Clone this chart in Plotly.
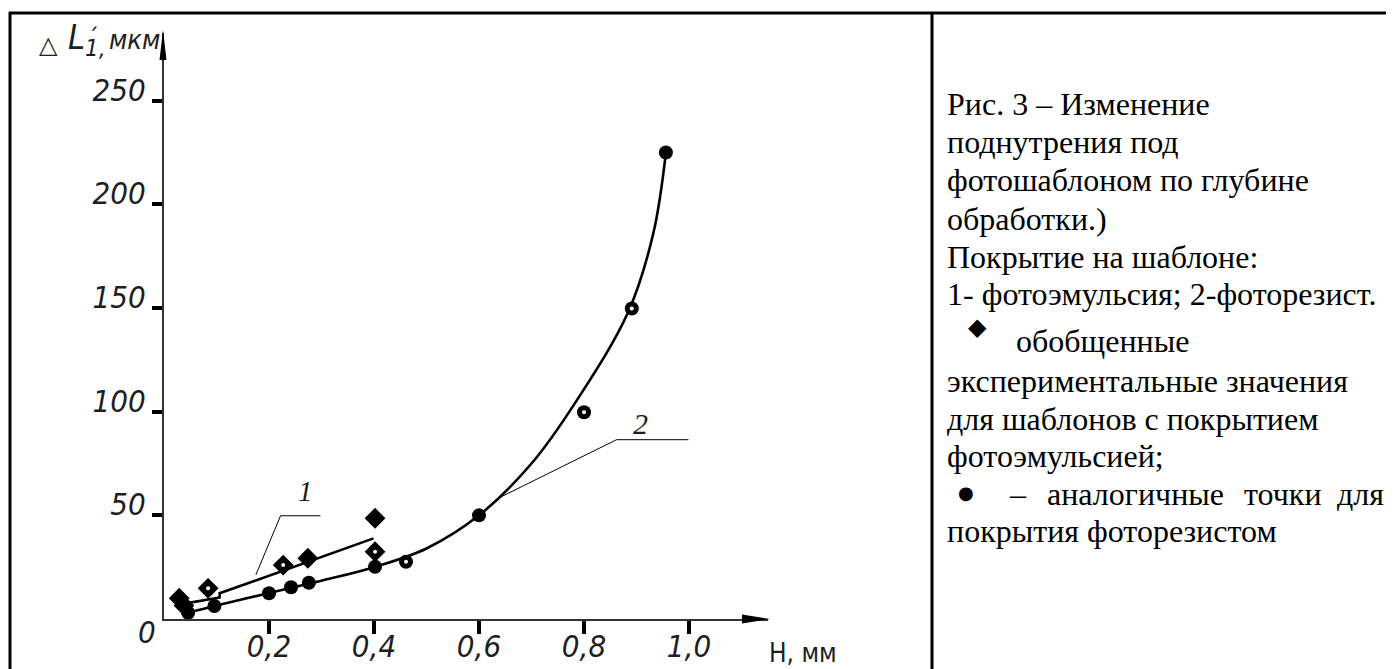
import plotly.graph_objects as go

# ---------------- data ----------------
# photoemulsion (series 1) experimental points, diamonds
emul_x = [0.029, 0.038, 0.084, 0.227, 0.274, 0.402, 0.402]
emul_y = [10.0, 6.5, 14.8, 26.0, 29.3, 48.6, 32.5]
emul_dot = [False, False, True, True, False, False, True]

# photoresist (series 2) experimental points, circles
resist_x = [0.046, 0.096, 0.200, 0.242, 0.276, 0.402, 0.461, 0.600, 0.800, 0.891, 0.956]
resist_y = [3.0, 6.3, 12.4, 15.3, 17.5, 25.2, 27.6, 50.0, 99.7, 149.8, 225.0]
resist_dot = [False, False, False, False, False, False, True, False, True, True, False]

# fitted curve 1 (photoemulsion)
curve1_x = [0.050, 0.106, 0.106, 0.399]
curve1_y = [7.9, 10.4, 12.4, 38.9]

# fitted curve 2 (photoresist)
curve2_x = [0.046, 0.100, 0.200, 0.300, 0.400, 0.500, 0.600, 0.700, 0.785, 0.884, 0.932, 0.956]
curve2_y = [3.0, 6.5, 12.5, 18.5, 25.0, 34.0, 50.0, 75.0, 105.0, 148.0, 186.0, 225.0]

# ticks
x_tickvals = [0.2, 0.4, 0.6, 0.8, 1.0]
x_ticktext = ["0,2", "0,4", "0,6", "0,8", "1,0"]
y_tickvals = [50, 100, 150, 200, 250]
y_ticktext = ["50", "100", "150", "200", "250"]

# caption text (text, left x, baseline y) in page pixels
caption_lines = [
    ("Рис. 3 – Изменение", 945, 114),
    ("поднутрения под", 945, 152),
    ("фотошаблоном по глубине", 945, 190),
    ("обработки.)", 945, 229),
    ("Покрытие на шаблоне:", 945, 267),
    ("1- фотоэмульсия; 2-фоторезист.", 945, 304),
    ("обобщенные", 1014, 351),
    ("экспериментальные значения", 945, 391),
    ("для шаблонов с покрытием", 945, 429),
    ("фотоэмульсией;", 945, 466),
    ("–", 1007, 504),
    ("аналогичные", 1045, 504),
    ("точки", 1242, 504),
    ("для", 1335, 504),
    ("покрытия фоторезистом", 945, 541),
]

# ---------------- layout geometry ----------------
OFF = 8  # page body margin
W, H = 1394, 669
ML = 164 - OFF
MT = 33 - OFF
MR = W - (768 - OFF)
MB = H - (619 - OFF)
PW, PH = W - ML - MR, H - MT - MB
X_MAX = PW / 525.0
Y_MAX = PH / 2.073


def pxx(px):
    return (px - OFF - ML) / PW


def pxy(py):
    return (H - MB - (py - OFF)) / PH


GOST = "DejaVu Sans Condensed, Liberation Sans Narrow, Liberation Sans, sans-serif"
SERIF = "Liberation Serif, Times New Roman, serif"
INK = "#1e1e22"

fig = go.Figure()

fig.add_trace(go.Scatter(x=curve1_x, y=curve1_y, mode="lines",
                         line=dict(color="black", width=2.6), cliponaxis=False,
                         showlegend=False, hoverinfo="skip"))
fig.add_trace(go.Scatter(x=curve2_x, y=curve2_y, mode="lines",
                         line=dict(color="black", width=2.6, shape="spline", smoothing=1.0),
                         cliponaxis=False, showlegend=False, hoverinfo="skip"))

fig.add_trace(go.Scatter(x=emul_x, y=emul_y, mode="markers",
                         marker=dict(symbol="diamond", size=16, color="black", line=dict(width=0)),
                         cliponaxis=False, showlegend=False, name="фотоэмульсия"))
fig.add_trace(go.Scatter(x=resist_x, y=resist_y, mode="markers",
                         marker=dict(symbol="circle", size=14, color="black", line=dict(width=0)),
                         cliponaxis=False, showlegend=False, name="фоторезист"))

dot_x = [x for x, d in zip(emul_x, emul_dot) if d] + [x for x, d in zip(resist_x, resist_dot) if d]
dot_y = [y for y, d in zip(emul_y, emul_dot) if d] + [y for y, d in zip(resist_y, resist_dot) if d]
fig.add_trace(go.Scatter(x=dot_x, y=dot_y, mode="markers",
                         marker=dict(symbol="circle", size=4, color="white", line=dict(width=0)),
                         cliponaxis=False, showlegend=False, hoverinfo="skip"))

tickfont = dict(family=GOST, size=31, color=INK, style="italic")

fig.update_layout(
    template="none",
    width=W, height=H,
    margin=dict(l=ML, r=MR, t=MT, b=MB, pad=0, autoexpand=False),
    paper_bgcolor="white", plot_bgcolor="white",
    xaxis=dict(range=[0, X_MAX], showgrid=False, zeroline=False, automargin=False,
               showline=True, linecolor="#333", linewidth=2,
               tickmode="array", tickvals=x_tickvals, ticktext=x_ticktext,
               ticks="outside", ticklen=13, tickwidth=4, tickcolor="black",
               tickfont=tickfont, ticklabelstandoff=-14),
    yaxis=dict(range=[0, Y_MAX], showgrid=False, zeroline=False, automargin=False,
               showline=True, linecolor="#333", linewidth=2,
               tickmode="array", tickvals=y_tickvals, ticktext=y_ticktext,
               ticks="outside", ticklen=10, tickwidth=4, tickcolor="black",
               tickfont=tickfont, ticklabelshift=-11),
)

shapes = []
# axis arrow heads
shapes.append(dict(type="path", xref="paper", yref="paper",
                   path=f"M {pxx(163)},{pxy(30)} L {pxx(159.5)},{pxy(60)} L {pxx(166.5)},{pxy(60)} Z",
                   fillcolor="black", line=dict(width=0)))
shapes.append(dict(type="path", xref="paper", yref="paper",
                   path=f"M {pxx(770)},{pxy(619)} L {pxx(742)},{pxy(614.5)} L {pxx(742)},{pxy(623.5)} Z",
                   fillcolor="black", line=dict(width=0)))
# frame
for (x0, y0, x1, y1) in [(9, 13, 1392, 13), (10, 12, 10, 690), (932, 12, 932, 690), (1391, 12, 1391, 690)]:
    shapes.append(dict(type="line", xref="paper", yref="paper",
                       x0=pxx(x0), y0=pxy(y0), x1=pxx(x1), y1=pxy(y1),
                       line=dict(color="black", width=3)))
# leader lines for curve labels
for (xa, ya, xb, yb) in [(0.175, 21.3, 0.222, 49.8), (0.222, 49.8, 0.298, 49.8),
                         (0.637, 58.3, 0.862, 86.5), (0.862, 86.5, 0.999, 86.5)]:
    shapes.append(dict(type="line", xref="x", yref="y", x0=xa, y0=ya, x1=xb, y1=yb,
                       line=dict(color="black", width=1)))
fig.update_layout(shapes=shapes)

ann = []
# origin label
ann.append(dict(text="0", xref="paper", yref="paper", x=pxx(147), y=pxy(632),
                xanchor="center", yanchor="middle", showarrow=False, font=tickfont))
# axis titles
ann.append(dict(text="△", xref="paper", yref="paper", x=pxx(48), y=pxy(45),
                xanchor="center", yanchor="middle", showarrow=False,
                font=dict(family="DejaVu Sans", size=24, color=INK)))
ann.append(dict(text="L<sub>1,</sub>", xref="paper", yref="paper", x=pxx(66), y=pxy(39),
                xanchor="left", yanchor="middle", showarrow=False,
                font=dict(family=GOST, size=34, color=INK, style="italic")))
ann.append(dict(text="мкм", xref="paper", yref="paper", x=pxx(107), y=pxy(40),
                xanchor="left", yanchor="middle", showarrow=False,
                font=dict(family=GOST, size=27, color=INK, style="italic")))
ann.append(dict(text="´", xref="paper", yref="paper", x=pxx(93), y=pxy(38),
                xanchor="center", yanchor="middle", showarrow=False,
                font=dict(family=GOST, size=24, color=INK)))
ann.append(dict(text="H, мм", xref="paper", yref="paper", x=pxx(767), y=pxy(653),
                xanchor="left", yanchor="middle", showarrow=False,
                font=dict(family=GOST, size=26, color=INK)))
# curve labels
ann.append(dict(text="1", xref="x", yref="y", x=0.27, y=61.8, xanchor="center", yanchor="middle",
                showarrow=False, font=dict(family=SERIF, size=29, color=INK, style="italic")))
ann.append(dict(text="2", xref="x", yref="y", x=0.907, y=94.2, xanchor="center", yanchor="middle",
                showarrow=False, font=dict(family=SERIF, size=30, color=INK, style="italic")))
# caption
CAP = 32
for txt, xl, base in caption_lines:
    ann.append(dict(text=txt, xref="paper", yref="paper", x=pxx(xl), y=pxy(base - 10),
                    xanchor="left", yanchor="middle", showarrow=False,
                    font=dict(family=SERIF, size=CAP, color="black")))
# legend glyphs inside caption
ann.append(dict(text="◆", xref="paper", yref="paper", x=pxx(977), y=pxy(327),
                xanchor="center", yanchor="middle", showarrow=False,
                font=dict(family="DejaVu Sans", size=24, color="black")))
ann.append(dict(text="●", xref="paper", yref="paper", x=pxx(966), y=pxy(492),
                xanchor="center", yanchor="middle", showarrow=False,
                font=dict(family="DejaVu Sans", size=18, color="black")))
fig.update_layout(annotations=ann)

fig.write_html("out.html")
